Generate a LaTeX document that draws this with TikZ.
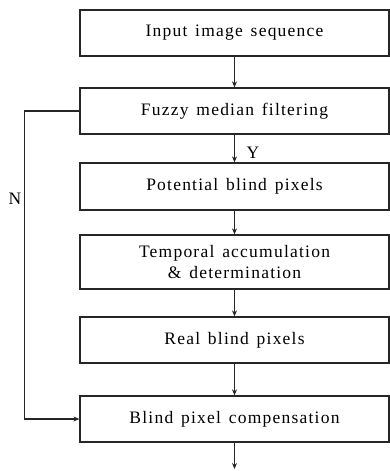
\documentclass[tikz,border=0pt]{standalone}
\usepackage{fontspec}
\setmainfont{Liberation Serif}[LetterSpace=7,WordSpace=1.4]
\usetikzlibrary{arrows.meta}
\begin{document}
\begin{tikzpicture}[x=1pt,y=-1pt,
  box/.style={draw=black!85, line width=1.3pt, minimum width=309pt, inner sep=0pt, align=center, font=\fontsize{17.5}{21}\selectfont},
  arr/.style={draw=black!85, line width=1.1pt, -{Stealth[length=6pt,width=5pt]}},
  lbl/.style={font=\fontsize{17.5}{21}\selectfont, inner sep=0pt}]
\useasboundingbox (0,0) rectangle (390,471);
\node[box, minimum height=46pt] (b1) at (234.5,33) {Input image sequence};
\node[box, minimum height=46pt] (b2) at (234.5,111) {Fuzzy median filtering};
\node[box, minimum height=47pt] (b3) at (234.5,186.5) {Potential blind pixels};
\node[box, minimum height=54pt] (b4) at (234.5,262) {Temporal accumulation\\ \& determination};
\node[box, minimum height=46pt] (b5) at (234.5,340) {Real blind pixels};
\node[box, minimum height=46pt] (b6) at (234.5,419) {Blind pixel compensation};
\coordinate (end) at (234.5,469);
\draw[arr] (b1) -- (b2);
\draw[arr] (b2) -- (b3);
\draw[arr] (b3) -- (b4);
\draw[arr] (b4) -- (b5);
\draw[arr] (b5) -- (b6);
\draw[arr] (b6) -- (end);
\draw[arr] (b2.west) -- ++(-55,0) coordinate (lc) |- (b6.west);
\node[lbl] (y) at (253,153) {Y};
\node[lbl] (n) at (15,199) {N};
\end{tikzpicture}
\end{document}
